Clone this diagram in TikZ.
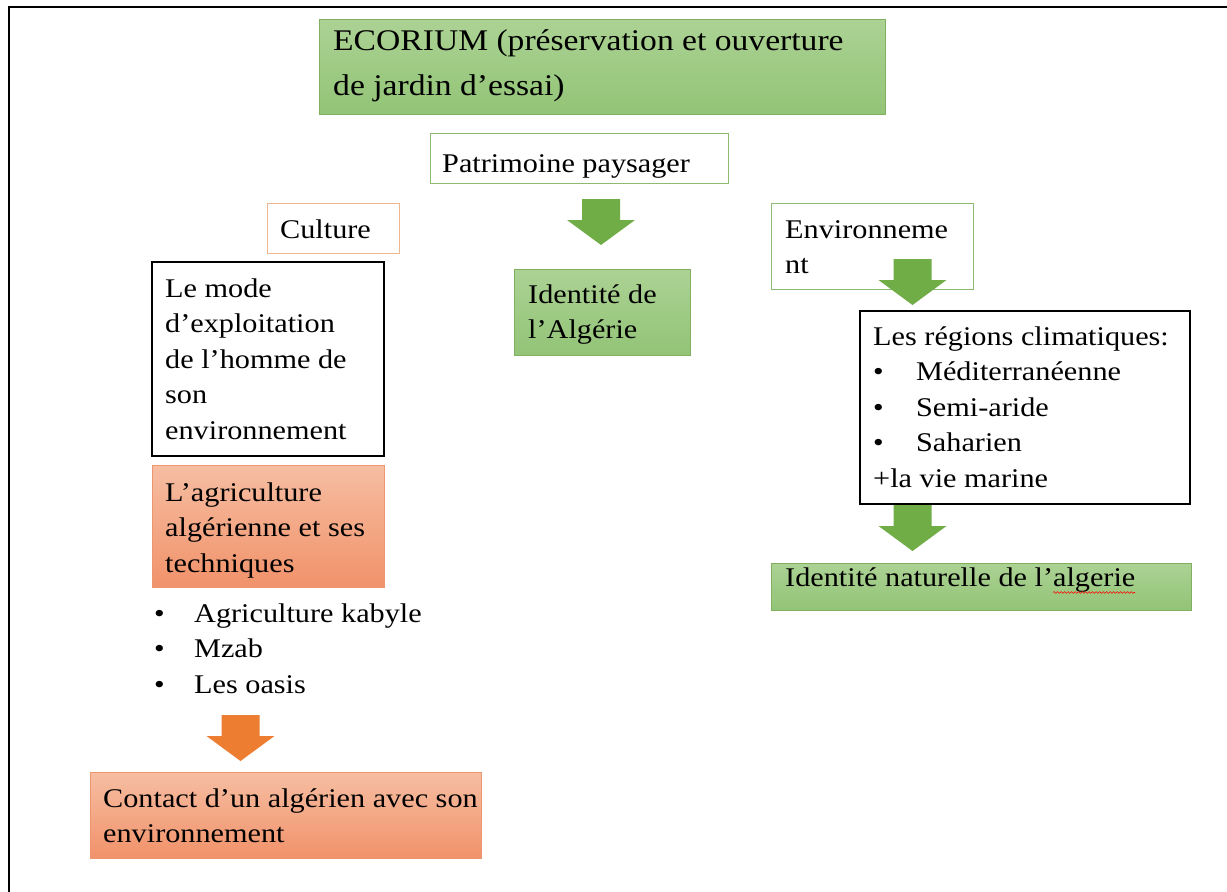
\documentclass[tikz,border=0pt]{standalone}
\usepackage{fontspec}
\setmainfont{Liberation Serif}[FakeStretch=1.12]
\usetikzlibrary{decorations.pathmorphing}
\definecolor{gtop}{RGB}{172,210,148}
\definecolor{gbot}{RGB}{146,196,118}
\definecolor{gborder}{RGB}{128,176,96}
\definecolor{otop}{RGB}{246,190,162}
\definecolor{obot}{RGB}{241,146,106}
\definecolor{oborder}{RGB}{236,150,112}
\definecolor{arrgreen}{RGB}{112,173,71}
\definecolor{arrorange}{RGB}{237,125,49}
\definecolor{lgborder}{RGB}{140,186,112}
\definecolor{loborder}{RGB}{240,182,142}
\tikzset{
  box/.style={anchor=north west, inner sep=0pt, outer sep=0pt, line width=1pt},
  greenbox/.style={box, draw=gborder, top color=gtop, bottom color=gbot},
  orangebox/.style={box, draw=oborder, top color=otop, bottom color=obot},
  plainbox/.style={box, draw=black, fill=white, line width=1.2pt},
  lightgreenbox/.style={box, draw=lgborder, fill=white},
  lightorangebox/.style={box, draw=loborder, fill=white},
  txt/.style={anchor=north west, inner sep=0pt, align=left, text=black,
    font=\fontsize{27}{35.5}\selectfont},
  bigtxt/.style={txt, font=\fontsize{30}{45}\selectfont},
  blockdown/.pic={\path[pic actions] (-19,0) -- (19,0) -- (19,21) -- (34,21) -- (0,46) -- (-34,21) -- (-19,21) -- cycle;}
}
\newcommand{\blt}{\makebox[40pt][l]{\textbullet}}
\begin{document}
\begin{tikzpicture}[x=1pt,y=-1pt]
\useasboundingbox (0,0) rectangle (1227,892);
% frame
\draw[line width=2.2pt] (9.3,892) -- (9.3,6.8) -- (1227,6.8);
% boxes
\node[greenbox, minimum width=566pt, minimum height=95pt] (eco) at (319,19) {};
\node[lightgreenbox, minimum width=298pt, minimum height=50pt] (pat) at (430,133) {};
\node[lightorangebox, minimum width=132pt, minimum height=50pt] (cul) at (267,203) {};
\node[plainbox, minimum width=232pt, minimum height=194pt] (mode) at (152,262) {};
\node[orangebox, minimum width=232pt, minimum height=122pt] (agri) at (152,465) {};
\node[orangebox, minimum width=391pt, minimum height=86pt] (cont) at (90,772) {};
\node[greenbox, minimum width=176pt, minimum height=86pt] (idal) at (514,269) {};
\node[lightgreenbox, minimum width=202pt, minimum height=86pt] (env) at (771,203) {};
\node[plainbox, minimum width=330pt, minimum height=193pt] (reg) at (860,311) {};
\node[greenbox, minimum width=420pt, minimum height=47pt] (idn) at (771,563) {};
% block arrows
\pic[fill=arrgreen] (ga) at (601,199) {blockdown};
\pic[fill=arrgreen] (gb) at (912.5,259) {blockdown};
\pic[fill=arrgreen] (gc) at (912.5,505) {blockdown};
\pic[fill=arrorange] (oa) at (240.5,715) {blockdown};
% texts
\node[bigtxt] (ecot) at (333,18.5) {\strut ECORIUM (préservation et ouverture\\de jardin d’essai)};
\node[txt] (patt) at (442,147.15) {\strut Patrimoine paysager};
\node[txt] (cult) at (280,213.15) {\strut Culture};
\node[txt] (modet) at (165,272.15) {\strut Le mode\\d’exploitation\\de l’homme de\\son\\environnement};
\node[txt] (agrit) at (165,476.15) {\strut L’agriculture\\algérienne et ses\\techniques};
\node[txt] (listt) at (154,597.15) {\strut\blt Agriculture kabyle\\\blt Mzab\\\blt Les oasis};
\node[txt] (contt) at (103,782.15) {\strut Contact d’un algérien avec son\\environnement};
\node[txt] (idalt) at (528,278.15) {\strut Identité de\\l’Algérie};
\node[txt] (envt) at (785,213.15) {\strut Environneme\\nt};
\node[txt] (regt) at (873,320.15) {\strut Les régions climatiques:\\\makebox[43pt][l]{\textbullet}Méditerranéenne\\\makebox[43pt][l]{\textbullet}Semi-aride\\\makebox[43pt][l]{\textbullet}Saharien\\+la vie marine};
\node[txt] (idnt) at (785,561.15) {\strut Identité naturelle de l’algerie};
\draw[red, line width=0.6pt, decorate, decoration={snake, amplitude=0.9pt, segment length=3.5pt}] (1053,592.5) -- (1135,592.5);
\end{tikzpicture}
\end{document}
